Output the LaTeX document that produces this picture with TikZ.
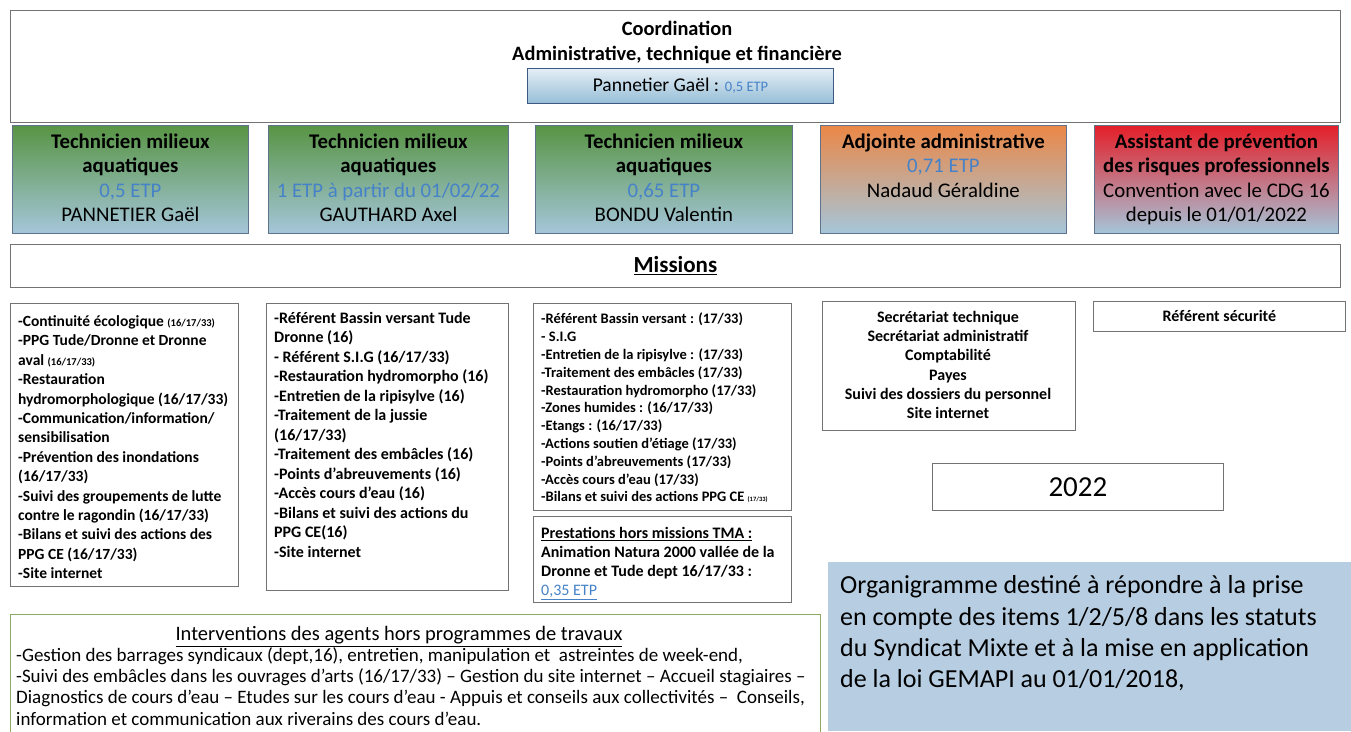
\documentclass[tikz,border=0pt]{standalone}
\usepackage{fontspec}
\setmainfont{Carlito}
\definecolor{etp}{RGB}{70,130,200}
\definecolor{grn}{RGB}{88,148,68}
\definecolor{grnmid}{RGB}{140,180,150}
\definecolor{blu}{RGB}{165,198,218}
\definecolor{org}{RGB}{235,135,70}
\definecolor{orgmid}{RGB}{215,170,165}
\definecolor{rd}{RGB}{228,30,40}
\definecolor{rdmid}{RGB}{215,130,140}
\definecolor{frame}{RGB}{115,115,115}
\definecolor{roleframe}{RGB}{95,115,140}
\definecolor{note}{RGB}{183,206,226}
\definecolor{bframe}{RGB}{140,170,100}
\definecolor{pgframe}{RGB}{60,90,130}
\definecolor{pgtop}{RGB}{228,238,245}
\definecolor{pgbot}{RGB}{150,190,215}
\newcommand{\fs}[2]{\fontsize{#1}{#2}\selectfont}
\tikzset{
  box/.style={draw=frame, line width=0.8pt, inner sep=0pt, anchor=north west},
  rolebox/.style={box, draw=roleframe, minimum height=108pt},
  greenrole/.style={rolebox, top color=grn, middle color=grnmid, bottom color=blu},
  roletxt/.style={anchor=north, align=center, inner sep=0pt, font=\fs{20.8}{24.5}},
  listtxt/.style={anchor=north west, align=left, inner sep=0pt},
}
\begin{document}
\begin{tikzpicture}[x=1pt,y=-1pt]
\useasboundingbox (0,0) rectangle (1351,731);
\fill[white] (0,0) rectangle (1351,731);

% Coordination
\node[box, minimum width=1330pt, minimum height=112pt] (coord) at (10,10) {};
\node[anchor=north, align=center, inner sep=0pt, font=\bfseries\fs{20.4}{25}] (coordtxt) at (677,21) {Coordination\\Administrative, technique et financière};
\node[box, draw=pgframe, line width=1pt, top color=pgtop, bottom color=pgbot, minimum width=306pt, minimum height=35pt] (pg) at (527,68) {};
\node[inner sep=0pt, font=\fs{19.5}{21}] (pgtxt) at (pg.center) {Pannetier Gaël : {\fs{14.5}{16}\color{etp}0,5 ETP}};

% Roles
\node[greenrole, minimum width=236pt] (r1) at (12,125) {};
\node[greenrole, minimum width=240pt] (r2) at (268,125) {};
\node[greenrole, minimum width=257pt] (r3) at (535,125) {};
\node[rolebox, minimum width=246pt, top color=org, middle color=orgmid, bottom color=blu] (r4) at (820,125) {};
\node[rolebox, minimum width=244pt, top color=rd, middle color=rdmid, bottom color=blu] (r5) at (1094,125) {};

\node[roletxt] (t1) at (r1.center |- 0,133.5) {\textbf{Technicien milieux}\\\textbf{aquatiques}\\{\color{etp}0,5 ETP}\\PANNETIER Gaël};
\node[roletxt] (t2) at (r2.center |- 0,133.5) {\textbf{Technicien milieux}\\\textbf{aquatiques}\\{\color{etp}1 ETP à partir du 01/02/22}\\GAUTHARD Axel};
\node[roletxt] (t3) at (r3.center |- 0,133.5) {\textbf{Technicien milieux}\\\textbf{aquatiques}\\{\color{etp}0,65 ETP}\\BONDU Valentin};
\node[roletxt] (t4) at (r4.center |- 0,133.5) {\textbf{Adjointe administrative}\\{\color{etp}0,71 ETP}\\Nadaud Géraldine};
\node[roletxt] (t5) at (r5.center |- 0,133.5) {\textbf{Assistant de prévention}\\\textbf{des risques professionnels}\\Convention avec le CDG 16\\depuis le 01/01/2022};

% Missions
\node[box, minimum width=1330pt, minimum height=43pt] (missions) at (10,244) {};
\node[inner sep=0pt, font=\bfseries\fs{23}{25}] (missionstxt) at (missions.center) {\underline{Missions}};

% Mission lists
\node[box, minimum width=228pt, minimum height=283pt] (ma) at (10,303) {};
\node[listtxt, font=\bfseries\fs{15.5}{19.4}] (mat) at (18,315.3) {%
-Continuité écologique {\fs{10.5}{12}(16/17/33)}\\
-PPG Tude/Dronne et Dronne\\
aval {\fs{10.5}{12}(16/17/33)}\\
-Restauration\\
hydromorphologique (16/17/33)\\
-Communication/information/\\
sensibilisation\\
-Prévention des inondations\\
(16/17/33)\\
-Suivi des groupements de lutte\\
contre le ragondin (16/17/33)\\
-Bilans et suivi des actions des\\
PPG CE (16/17/33)\\
-Site internet};

\node[box, minimum width=242pt, minimum height=287pt] (mb) at (266,303) {};
\node[listtxt, font=\bfseries\fs{16}{19.5}] (mbt) at (274,312) {%
-Référent Bassin versant Tude\\
Dronne (16)\\
- Référent S.I.G (16/17/33)\\
-Restauration hydromorpho (16)\\
-Entretien de la ripisylve (16)\\
-Traitement de la jussie\\
(16/17/33)\\
-Traitement des embâcles (16)\\
-Points d’abreuvements (16)\\
-Accès cours d’eau (16)\\
-Bilans et suivi des actions du\\
PPG CE(16)\\
-Site internet};

\node[box, minimum width=258pt, minimum height=207pt] (mc) at (533,303) {};
\node[listtxt, font=\bfseries\fs{14.5}{17.8}] (mct) at (541,313) {%
-Référent Bassin versant : (17/33)\\
- S.I.G\\
-Entretien de la ripisylve : (17/33)\\
-Traitement des embâcles (17/33)\\
-Restauration hydromorpho (17/33)\\
-Zones humides : (16/17/33)\\
-Etangs : (16/17/33)\\
-Actions soutien d’étiage (17/33)\\
-Points d’abreuvements (17/33)\\
-Accès cours d’eau (17/33)\\
-Bilans et suivi des actions PPG CE {\fs{6.5}{8}(17/33)}};

\node[box, minimum width=258pt, minimum height=86pt] (md) at (533,516) {};
\node[listtxt, font=\bfseries\fs{16}{19}] (mdt) at (541,527) {%
\underline{Prestations hors missions TMA :}\\
Animation Natura 2000 vallée de la\\
Dronne et Tude dept 16/17/33 :\\
{\mdseries\color{etp}\underline{0,35 ETP}}};

\node[box, minimum width=253pt, minimum height=129pt] (me) at (822,301) {};
\node[anchor=north, align=center, inner sep=0pt, font=\bfseries\fs{16}{19.2}] (met) at (948,311) {%
Secrétariat technique\\Secrétariat administratif\\Comptabilité\\Payes\\Suivi des dossiers du personnel\\Site internet};

\node[box, minimum width=252pt, minimum height=30pt] (mf) at (1093,301) {};
\node[inner sep=0pt, font=\bfseries\fs{16}{18}] (mft) at (mf.center) {Référent sécurité};

% Year
\node[box, minimum width=291pt, minimum height=47pt] (year) at (932,463) {};
\node[inner sep=0pt, font=\fs{29}{31}] (yeart) at (year.center) {2022};

% Note
\node[box, draw=none, fill=note, minimum width=523pt, minimum height=169pt] (note) at (828,562) {};
\node[listtxt, font=\fs{26}{31.3}] (notet) at (840,575.5) {%
Organigramme destiné à répondre à la prise\\
en compte des items 1/2/5/8 dans les statuts\\
du Syndicat Mixte et à la mise en application\\
de la loi GEMAPI au 01/01/2018,};

% Interventions
\node[box, draw=none, minimum width=810pt, minimum height=117pt] (interv) at (10,614) {};
\draw[bframe, line width=1pt] (interv.south west) |- (interv.north east) -- (interv.south east);
\node[anchor=north, inner sep=0pt, font=\fs{20.5}{22}] (intervtitle) at (399,626.5) {\underline{Interventions des agents hors programmes de travaux}};
\node[listtxt, font=\fs{19}{21.3}] (intervt) at (16,647) {%
-Gestion des barrages syndicaux (dept,16), entretien, manipulation et\ \ astreintes de week-end,\\
-Suivi des embâcles dans les ouvrages d’arts (16/17/33) – Gestion du site internet – Accueil stagiaires –\\
Diagnostics de cours d’eau – Etudes sur les cours d’eau - Appuis et conseils aux collectivités –\ \ Conseils,\\
information et communication aux riverains des cours d’eau.};
\end{tikzpicture}
\end{document}
